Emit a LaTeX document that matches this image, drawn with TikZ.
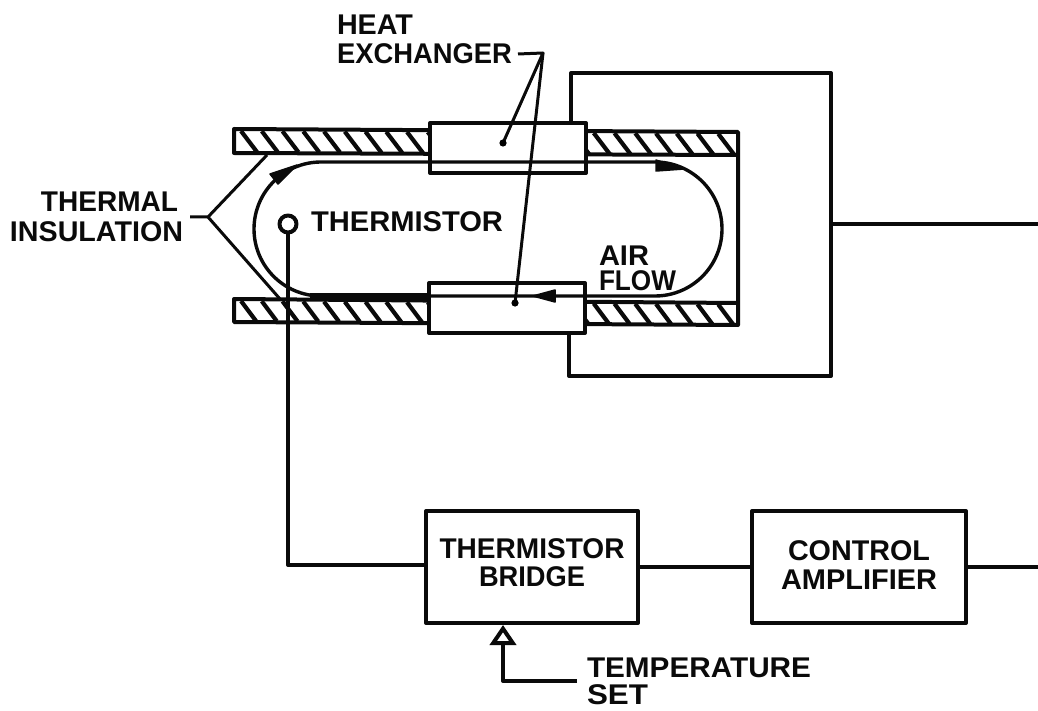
\documentclass[tikz,border=0pt]{standalone}
\usepackage{fontspec}
\usepackage{graphicx}
\setmainfont{Liberation Sans}
\usetikzlibrary{positioning,calc,arrows.meta}
\definecolor{inkblack}{RGB}{10,10,10}
\newcommand{\textline}[2]{\resizebox{#1pt}{\height}{#2}}

\begin{document}
\begin{tikzpicture}[x=1pt, y=-1pt, line width=4pt, draw=inkblack, text=inkblack, line join=round]

\tikzstyle{block} = [rectangle, draw, inner sep=0pt, text centered, align=center, font=\fontsize{28.5}{27}\selectfont\bfseries];
\tikzstyle{exchanger} = [rectangle, draw, fill=white, inner sep=0pt, minimum width=156pt, minimum height=50pt];
\tikzstyle{caption} = [inner sep=0pt, align=left, font=\fontsize{28.5}{27}\selectfont\bfseries];
\tikzstyle{leader} = [line width=3pt];
\tikzstyle{flowhead} = [fill=inkblack, draw=inkblack, line width=1.5pt];

\useasboundingbox (0,0) rectangle (1038,711);

% Tube walls
\draw (738,155) -- (234,153) -- (234,129) -- (738,132) -- (738,325) -- (234,322) -- (234,299) -- (738,303);
\foreach \xpos in {0,...,23} {
  \draw[line width=4.2pt] ($(241,131)+(20.75*\xpos,0.12*\xpos)$) -- ++(16,21);
  \draw[line width=4.2pt] ($(241,301)+(20.75*\xpos,0.15*\xpos)$) -- ++(15,20);
}

% Heat exchangers
\node (hxtop) [exchanger] at (508,148) {};
\node (hxbottom) [exchanger] at (507,308) {};

% Air flow
\draw[line width=3.4pt] (321,162) arc (270:90:67) -- (655,296) arc (90:-90:67) -- cycle;
\draw[line width=6pt] (310,296) -- (428,296);
\fill[flowhead] (270,174) -- (297,165) -- (278,184) -- cycle;
\fill[flowhead] (656,160) -- (684,169) -- (656,171) -- cycle;
\fill[flowhead] (555,290) -- (533,296) -- (555,302) -- cycle;
\node (airflow) [caption, anchor=north west] at (597,244) {\textline{50}{AIR}\\[-2pt]\textline{77}{FLOW}};

% Thermistor
\node (probe) [circle, draw, fill=white, inner sep=0pt, minimum size=17pt] at (288,224) {};
\node (thermistorlabel) [caption, anchor=base west] at (309,232) {\textline{192}{THERMISTOR}};

% Labels with leaders
\node (insulation) [caption, align=right, anchor=east] at (185,216.5) {\textline{137}{THERMAL}\hspace*{5pt}\\[3pt]\textline{173}{INSULATION}};
\coordinate (insfork) at (208,217);
\coordinate (insup) at (267,155);
\coordinate (insdown) at (280,299);
\draw[leader] (190,217) -- (insfork) -- (insup);
\draw[leader] (insfork) -- (insdown);

\node (hxlabel) [caption, anchor=north west] at (335,13) {\textline{76}{HEAT}\\[2pt]\textline{175}{EXCHANGER}};
\coordinate (hxfork) at (543,53);
\coordinate (hxdottop) at (503,143);
\coordinate (hxdotbottom) at (515,303);
\draw[leader] (518,54) -- (hxfork) -- (hxdottop);
\draw[leader] (hxfork) -- (hxdotbottom);
\fill (hxdottop) circle (3.6pt);
\fill (hxdotbottom) circle (3.6pt);

% Block row
\node (bridge) [block, minimum width=212pt, minimum height=112pt, text depth=9pt] at (532,567) {\textline{185}{THERMISTOR}\\[1pt]\textline{106}{BRIDGE}};
\node (amplifier) [block, minimum width=214pt, minimum height=112pt, text depth=4pt, right=110pt of bridge] {\textline{142}{CONTROL}\\[2pt]\textline{156}{AMPLIFIER}};
\coordinate (bendprobe) at (288,565);
\coordinate (outamp) at (1038,566.5);

% Heater loop
\coordinate (looptop) at (571,73);
\coordinate (loopright) at (831,73);
\coordinate (loopbottom) at (569,376);
\coordinate (outloop) at (1038,224);

% Connections
\draw (probe) -- (bendprobe) -- (bridge.west |- bendprobe);
\draw (bridge.east |- outamp) -- (amplifier.west |- outamp);
\draw (amplifier.east |- outamp) -- (outamp);
\draw (looptop |- hxtop.north) -- (looptop) -- (loopright) -- (loopright |- loopbottom) -- (loopbottom) -- (loopbottom |- hxbottom.south);
\draw (loopright |- outloop) -- (outloop);

% Temperature set
\node (tempset) [caption, anchor=north west, align=left] at (585,656) {\textline{224}{TEMPERATURE}\\\textline{61}{SET}};
\coordinate (setbend) at (503,681);
\draw[-{Triangle[open,length=20pt,width=26pt]}] (577,681) -- (setbend) -- (setbend |- bridge.south);
\end{tikzpicture}
\end{document}
